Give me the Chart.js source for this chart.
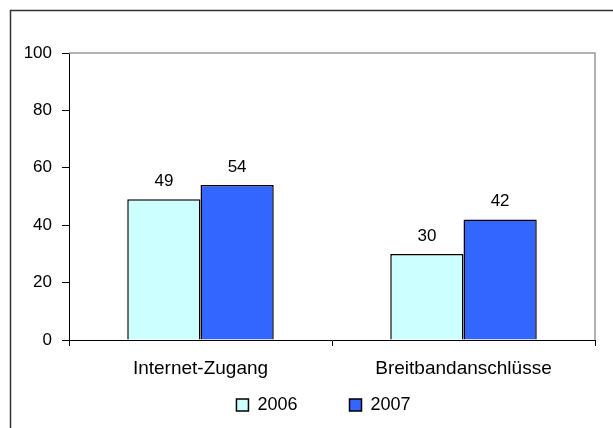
<!DOCTYPE html>
<html>
<head>
<meta charset="utf-8">
<script src="https://cdn.jsdelivr.net/npm/chart.js@4"></script>
<style>
  html, body { margin: 0; padding: 0; background: #fff; }
  #wrap { width: 613px; height: 428px; }
</style>
</head>
<body>
<div id="wrap"><canvas id="chart"></canvas></div>
<script>
var categories = ["Internet-Zugang", "Breitbandanschlüsse"];
var values2006 = [49, 30];
var values2007 = [54, 42];
var seriesNames = ["2006", "2007"];

Chart.defaults.font.family = "'Liberation Sans', Arial, sans-serif";
Chart.defaults.color = '#000';

// outer frame + grey top/right edge of the plot area
var framePlugin = {
  id: 'frame',
  beforeDraw: function (chart) {
    var c = chart.ctx;
    c.save();
    c.strokeStyle = '#333';
    c.lineWidth = 1.5;
    c.beginPath();
    c.moveTo(10.5, chart.height);
    c.lineTo(10.5, 10.5);
    c.lineTo(chart.width, 10.5);
    c.stroke();
    c.restore();
  },
  afterDraw: function (chart) {
    var a = chart.chartArea, c = chart.ctx;
    c.save();
    c.strokeStyle = '#999';
    c.lineWidth = 1.5;
    c.beginPath();
    c.moveTo(a.left, a.top);
    c.lineTo(a.right, a.top);
    c.lineTo(a.right, a.bottom);
    c.stroke();
    c.restore();
  }
};

// legend: wide gap between the two items, but keep it close under the axis labels
var legendNudge = {
  id: 'legendNudge',
  afterLayout: function (chart) {
    var lg = chart.legend;
    var up = lg.options.labels.padding - 12;
    lg.top -= up;
    lg.bottom = chart.height;
    lg.left += 21; lg.right += 21;
  }
};

// value labels above the bars
var valueLabels = {
  id: 'valueLabels',
  afterDatasetsDraw: function (chart) {
    var c = chart.ctx;
    c.save();
    c.font = "17px 'Liberation Sans', Arial, sans-serif";
    c.fillStyle = '#000';
    c.textAlign = 'center';
    c.textBaseline = 'alphabetic';
    chart.data.datasets.forEach(function (ds, i) {
      chart.getDatasetMeta(i).data.forEach(function (bar, j) {
        c.fillText(ds.data[j], bar.x, bar.y - 13);
      });
    });
    c.restore();
  }
};

var ctx = document.getElementById('chart').getContext('2d');
var myChart = new Chart(ctx, {
  type: 'bar',
  data: {
    labels: categories,
    datasets: [{
      label: seriesNames[0],
      data: values2006,
      backgroundColor: '#CCFFFF',
      borderColor: '#000',
      borderWidth: 1.5
    }, {
      label: seriesNames[1],
      data: values2007,
      backgroundColor: '#3366FF',
      borderColor: '#000',
      borderWidth: 1.5
    }]
  },
  options: {
    responsive: true,
    maintainAspectRatio: false,
    animation: false,
    datasets: { bar: { categoryPercentage: 0.557, barPercentage: 1 } },
    layout: { padding: { left: 10, right: 18, top: 53, bottom: 4 } },
    plugins: {
      tooltip: { enabled: false },
      legend: {
        position: 'bottom',
        maxHeight: 40,
        labels: {
          boxWidth: 12,
          boxHeight: 12,
          padding: 52,
          font: { size: 18 }
        }
      }
    },
    scales: {
      x: {
        grid: { drawOnChartArea: false, offset: true, tickLength: 6, color: '#000' },
        border: { color: '#000' },
        ticks: { font: { size: 19 }, padding: 11, maxRotation: 0 },
        afterFit: function (scale) { scale.height = 44; }
      },
      y: {
        min: 0,
        max: 100,
        grid: { drawOnChartArea: false, tickLength: 7, color: '#000' },
        border: { color: '#000' },
        ticks: { stepSize: 20, font: { size: 17 }, padding: 10 },
        afterFit: function (scale) { scale.width = 59; }
      }
    }
  },
  plugins: [framePlugin, legendNudge, valueLabels]
});
</script>
</body>
</html>
